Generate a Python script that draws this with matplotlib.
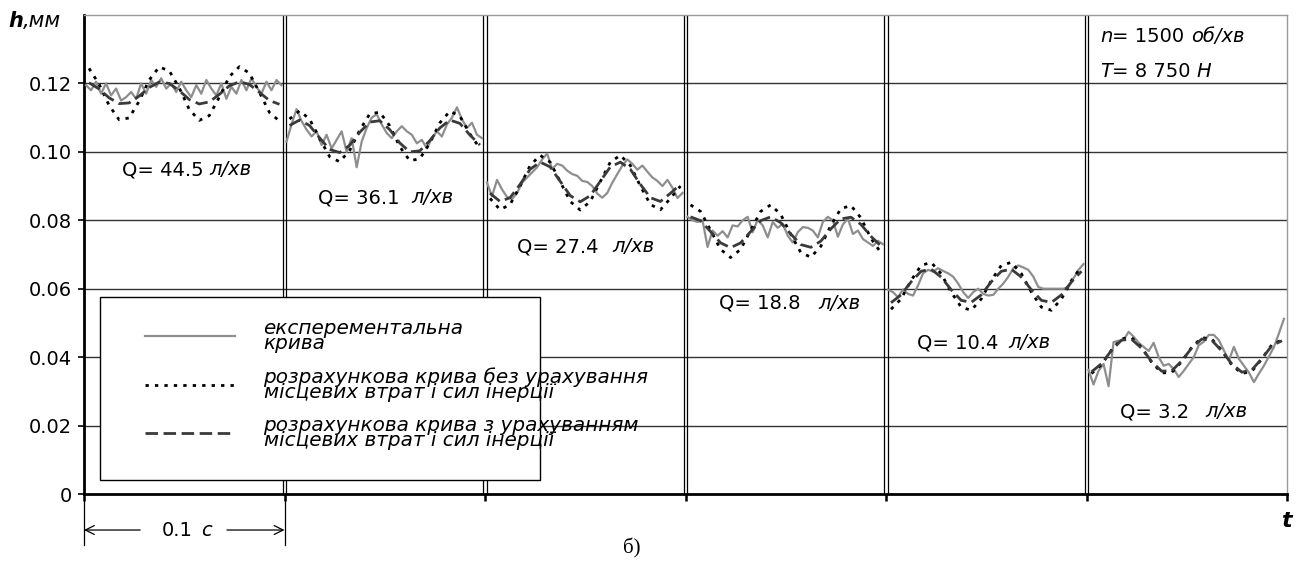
import matplotlib
import numpy as np

matplotlib.use("Agg")
import matplotlib.pyplot as plt
from matplotlib import transforms as mtransforms

plt.rcParams["font.family"] = "DejaVu Sans"

# segment boundaries (s) and flow rates
seg_starts = [0.0, 0.1, 0.2, 0.3, 0.4, 0.5]
q_values = ["44.5", "36.1", "27.4", "18.8", "10.4", "3.2"]
q_x = [0.019, 0.1167, 0.216, 0.3167, 0.4155, 0.5167]
q_y = [0.0947, 0.0866, 0.0722, 0.0558, 0.0442, 0.0240]
q_gap = [6, 12, 14, 18, 10, 16]

# local time inside a segment
t_calc = np.arange(20) * 0.005 + 0.0025
t_exp = np.arange(40) * 0.0025 + 0.001

# experimental curve, h (mm)
h_exp_1 = [0.1195, 0.1180, 0.1205, 0.1170, 0.1200, 0.1165, 0.1185, 0.1150, 0.1160, 0.1175,
           0.1155, 0.1200, 0.1170, 0.1210, 0.1190, 0.1215, 0.1185, 0.1200, 0.1175, 0.1205,
           0.1180, 0.1160, 0.1195, 0.1170, 0.1210, 0.1185, 0.1165, 0.1200, 0.1155, 0.1190,
           0.1170, 0.1210, 0.1180, 0.1215, 0.1190, 0.1170, 0.1205, 0.1180, 0.1210, 0.1195]
h_exp_2 = [0.1030, 0.1080, 0.1125, 0.1090, 0.1065, 0.1045, 0.1060, 0.1020, 0.1050, 0.1010,
           0.1035, 0.1060, 0.1000, 0.1040, 0.0955, 0.1030, 0.1070, 0.1100, 0.1110, 0.1080,
           0.1055, 0.1040, 0.1060, 0.1075, 0.1060, 0.1050, 0.1025, 0.1035, 0.1010, 0.1040,
           0.1060, 0.1045, 0.1080, 0.1100, 0.1130, 0.1095, 0.1070, 0.1085, 0.1050, 0.1040]
h_exp_3 = [0.0910, 0.0870, 0.0918, 0.0890, 0.0868, 0.0862, 0.0880, 0.0910, 0.0925, 0.0940,
           0.0955, 0.0978, 0.0995, 0.0950, 0.0965, 0.0960, 0.0945, 0.0935, 0.0930, 0.0915,
           0.0912, 0.0900, 0.0878, 0.0866, 0.0880, 0.0910, 0.0935, 0.0960, 0.0978, 0.0965,
           0.0948, 0.0960, 0.0942, 0.0925, 0.0915, 0.0900, 0.0918, 0.0895, 0.0865, 0.0880]
h_exp_4 = [0.0810, 0.0800, 0.0795, 0.0800, 0.0722, 0.0770, 0.0755, 0.0768, 0.0750, 0.0785,
           0.0782, 0.0800, 0.0810, 0.0765, 0.0802, 0.0785, 0.0750, 0.0795, 0.0778, 0.0790,
           0.0755, 0.0735, 0.0765, 0.0780, 0.0778, 0.0770, 0.0750, 0.0795, 0.0810, 0.0800,
           0.0752, 0.0788, 0.0805, 0.0760, 0.0770, 0.0745, 0.0735, 0.0725, 0.0740, 0.0730]
h_exp_5 = [0.0597, 0.0590, 0.0575, 0.0598, 0.0585, 0.0580, 0.0610, 0.0645, 0.0655, 0.0650,
           0.0660, 0.0652, 0.0645, 0.0635, 0.0615, 0.0590, 0.0573, 0.0590, 0.0600, 0.0585,
           0.0580, 0.0582, 0.0600, 0.0615, 0.0635, 0.0660, 0.0668, 0.0662, 0.0655, 0.0635,
           0.0605, 0.0600, 0.0600, 0.0600, 0.0600, 0.0600, 0.0605, 0.0630, 0.0655, 0.0672]
h_exp_6 = [0.0363, 0.0320, 0.0360, 0.0380, 0.0315, 0.0444, 0.0448, 0.0450, 0.0474, 0.0460,
           0.0442, 0.0430, 0.0418, 0.0442, 0.0400, 0.0375, 0.0380, 0.0365, 0.0342, 0.0360,
           0.0380, 0.0400, 0.0435, 0.0445, 0.0465, 0.0465, 0.0450, 0.0420, 0.0390, 0.0430,
           0.0395, 0.0375, 0.0355, 0.0327, 0.0352, 0.0375, 0.0402, 0.0430, 0.0470, 0.0512]

# calculated curve without local losses and inertia forces
h_no_1 = [0.1244, 0.1198, 0.1136, 0.1094, 0.1099, 0.1148, 0.1210, 0.1248, 0.1237, 0.1187,
          0.1124, 0.1092, 0.1106, 0.1160, 0.1220, 0.1249, 0.1230, 0.1174, 0.1115, 0.1090]
h_no_2 = [0.1096, 0.1120, 0.1096, 0.1039, 0.0986, 0.0971, 0.1004, 0.1063, 0.1111, 0.1116,
          0.1076, 0.1015, 0.0974, 0.0980, 0.1026, 0.1085, 0.1119, 0.1104, 0.1052, 0.1010]
h_no_3 = [0.0864, 0.0831, 0.0846, 0.0900, 0.0960, 0.0990, 0.0970, 0.0913, 0.0855, 0.0830,
          0.0855, 0.0913, 0.0970, 0.0990, 0.0960, 0.0900, 0.0846, 0.0831, 0.0864, 0.0900]
h_no_4 = [0.0845, 0.0826, 0.0771, 0.0715, 0.0691, 0.0715, 0.0771, 0.0826, 0.0845, 0.0817,
          0.0759, 0.0706, 0.0692, 0.0724, 0.0785, 0.0834, 0.0843, 0.0807, 0.0747, 0.0705]
h_no_5 = [0.0540, 0.0570, 0.0624, 0.0668, 0.0677, 0.0644, 0.0590, 0.0546, 0.0537, 0.0570,
          0.0624, 0.0668, 0.0677, 0.0644, 0.0590, 0.0546, 0.0537, 0.0570, 0.0624, 0.0665]
h_no_6 = [0.0352, 0.0378, 0.0421, 0.0454, 0.0457, 0.0428, 0.0385, 0.0354, 0.0355, 0.0387,
          0.0429, 0.0457, 0.0453, 0.0419, 0.0377, 0.0352, 0.0359, 0.0395, 0.0437, 0.0450]

# calculated curve with local losses and inertia forces
h_with_1 = [0.1202, 0.1184, 0.1158, 0.1141, 0.1143, 0.1163, 0.1188, 0.1204, 0.1200, 0.1179,
            0.1153, 0.1140, 0.1146, 0.1168, 0.1193, 0.1205, 0.1197, 0.1174, 0.1150, 0.1139]
h_with_2 = [0.1077, 0.1093, 0.1077, 0.1041, 0.1007, 0.0998, 0.1019, 0.1057, 0.1087, 0.1091,
            0.1065, 0.1026, 0.1000, 0.1003, 0.1033, 0.1070, 0.1093, 0.1083, 0.1049, 0.1020]
h_with_3 = [0.0879, 0.0855, 0.0866, 0.0905, 0.0949, 0.0970, 0.0956, 0.0914, 0.0872, 0.0854,
            0.0872, 0.0914, 0.0956, 0.0970, 0.0949, 0.0905, 0.0866, 0.0855, 0.0879, 0.0905]
h_with_4 = [0.0810, 0.0799, 0.0767, 0.0734, 0.0720, 0.0734, 0.0767, 0.0799, 0.0810, 0.0793,
            0.0760, 0.0729, 0.0721, 0.0739, 0.0775, 0.0804, 0.0809, 0.0788, 0.0753, 0.0725]
h_with_5 = [0.0559, 0.0582, 0.0620, 0.0651, 0.0657, 0.0634, 0.0597, 0.0566, 0.0560, 0.0582,
            0.0620, 0.0651, 0.0657, 0.0634, 0.0597, 0.0566, 0.0560, 0.0582, 0.0620, 0.0651]
h_with_6 = [0.0357, 0.0381, 0.0420, 0.0450, 0.0452, 0.0426, 0.0387, 0.0359, 0.0360, 0.0389,
            0.0427, 0.0453, 0.0449, 0.0418, 0.0380, 0.0356, 0.0363, 0.0396, 0.0434, 0.0448]

h_exp = [h_exp_1, h_exp_2, h_exp_3, h_exp_4, h_exp_5, h_exp_6]
h_no = [h_no_1, h_no_2, h_no_3, h_no_4, h_no_5, h_no_6]
h_with = [h_with_1, h_with_2, h_with_3, h_with_4, h_with_5, h_with_6]

y_ticks = [0.0, 0.02, 0.04, 0.06, 0.08, 0.10, 0.12]
y_tick_labels = ["0", "0.02", "0.04", "0.06", "0.08", "0.10", "0.12"]

legend_labels = [
    "експерементальна\nкрива",
    "розрахункова крива без урахування\nмісцевих втрат і сил інерції",
    "розрахункова крива з урахуванням\nмісцевих втрат і сил інерції",
]

W, H = 1298, 569
fig = plt.figure(figsize=(W / 100, H / 100), dpi=100)
ax = fig.add_axes([84 / W, 75 / H, 1203 / W, 479 / H])
renderer = fig.canvas.get_renderer()


def put_parts(x, y, parts, transform, size=14, va="center"):
    """Write pieces of text one after another, each with its own style."""
    dx = 0.0
    for text, style, weight, gap in parts:
        tr = mtransforms.offset_copy(transform, fig=fig, x=dx, y=0, units="dots")
        t = ax.text(x, y, text, transform=tr, fontsize=size, fontstyle=style,
                    fontweight=weight, ha="left", va=va, clip_on=False)
        dx += t.get_window_extent(renderer).width + gap


ax.set_xlim(0, 0.6)
ax.set_ylim(0, 0.14)

for yv in y_ticks[1:]:
    ax.axhline(yv, color="#333333", lw=1.0, zorder=1)
for xs in seg_starts[1:]:
    ax.axvline(xs - 0.0008, color="black", lw=0.9, zorder=1)
    ax.axvline(xs + 0.0008, color="black", lw=0.9, zorder=1)

handles = []
for i, start in enumerate(seg_starts):
    l1, = ax.plot(start + t_exp, h_exp[i], color="#8e8e8e", lw=1.6, zorder=3)
    l2, = ax.plot(start + t_calc, h_no[i], color="black", lw=2.0,
                  linestyle=(0, (1.2, 2.2)), zorder=4)
    l3, = ax.plot(start + t_calc, h_with[i], color="#3a3a3a", lw=2.0,
                  linestyle=(0, (4.5, 2.0)), zorder=5)
    if i == 0:
        handles = [l1, l2, l3]

    put_parts(q_x[i], q_y[i], [("Q= " + q_values[i], "normal", "normal", q_gap[i]),
                               ("л/хв", "italic", "normal", 0)], ax.transData)

for side in ("left", "bottom"):
    ax.spines[side].set_linewidth(2.0)
    ax.spines[side].set_color("black")
for side in ("top", "right"):
    ax.spines[side].set_linewidth(1.0)
    ax.spines[side].set_color("#999999")

ax.set_yticks(y_ticks)
ax.set_yticklabels(y_tick_labels)
ax.set_xticks(seg_starts + [0.6])
ax.set_xticklabels([])
ax.tick_params(axis="y", direction="out", length=4.5, width=1.2, labelsize=14, pad=4)
ax.tick_params(axis="x", direction="out", length=5, width=1.8)

# legend: keys and text placed by matplotlib, box drawn separately
leg = ax.legend(handles, legend_labels, loc="upper left",
                bbox_to_anchor=(0.042, 0.387), frameon=False, borderpad=0,
                handlelength=4.5, handletextpad=1.45, labelspacing=0.7,
                prop={"style": "italic", "size": 14.4})
for txt in leg.get_texts():
    txt.set_linespacing(0.75)
box = plt.Rectangle((0.0133, 0.0292), 0.3657, 0.3818, transform=ax.transAxes,
                    facecolor="white", edgecolor="black", lw=1.0, zorder=2)
ax.add_patch(box)

# operating conditions
put_parts(0.5067, 0.1336, [("n", "italic", "normal", 0), ("= 1500 ", "normal", "normal", 0),
                           ("об/хв", "italic", "normal", 0)], ax.transData, size=14)
put_parts(0.5067, 0.1234, [("T", "italic", "normal", 0), ("= 8 750 ", "normal", "normal", 0),
                           ("Н", "italic", "normal", 0)], ax.transData, size=14)

# axis names
put_parts(8 / W, 1 - 21 / H, [("h", "italic", "bold", 0), (",мм", "italic", "normal", 0)],
          fig.transFigure, size=15)
fig.text(1286 / W, 1 - 521 / H, "t", fontsize=16, fontstyle="italic", fontweight="bold",
         ha="center", va="center")
fig.text(632 / W, 1 - 548 / H, "б)", fontsize=15, family="Liberation Serif",
         ha="center", va="center")

# 0.1 s scale bar under the first segment
blend = mtransforms.blended_transform_factory(ax.transData, ax.transAxes)
for xs in (0.0, 0.1):
    ax.plot([xs, xs], [-0.008, -0.107], transform=blend, color="black", lw=0.9,
            clip_on=False)
arrow = dict(arrowstyle="->", lw=0.9, color="black", shrinkA=0, shrinkB=0,
             mutation_scale=16)
ax.annotate("", xy=(0.0, -0.0752), xytext=(0.028, -0.0752), xycoords=blend,
            textcoords=blend, arrowprops=arrow, annotation_clip=False)
ax.annotate("", xy=(0.1, -0.0752), xytext=(0.0713, -0.0752), xycoords=blend,
            textcoords=blend, arrowprops=arrow, annotation_clip=False)
put_parts(0.0389, -0.0752, [("0.1", "normal", "normal", 8), ("c", "italic", "normal", 0)],
          blend, size=14)

fig.savefig("out.png", dpi=100)
